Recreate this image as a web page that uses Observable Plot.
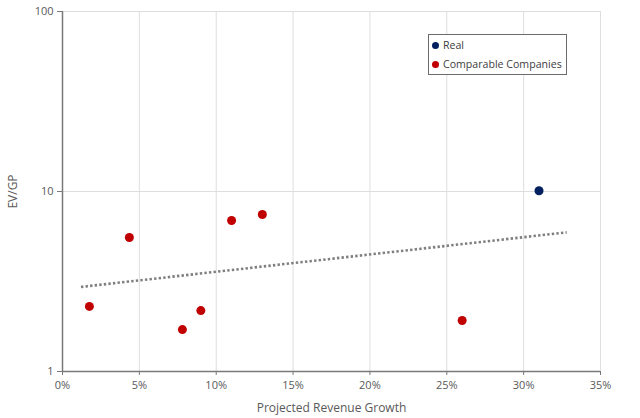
<!DOCTYPE html>
<html>
<head>
<meta charset="utf-8">
<script src="https://cdn.jsdelivr.net/npm/d3@7"></script>
<script src="https://cdn.jsdelivr.net/npm/@observablehq/plot@0.6"></script>
<style>
  body { margin: 0; background: #fff; font-family: "Open Sans", sans-serif; }
  #wrap { position: relative; width: 640px; height: 418px; }
  #legend { position: absolute; left: 428px; top: 34px; width: 139px; height: 41px;
            border: 1.5px solid #6b6b6b; background: #fff; font-size: 10.6px; color: #404040; box-sizing: border-box; white-space: nowrap; }
  .item { position: absolute; left: 3px; display: flex; align-items: center; line-height: 14px; }
  .sw { width: 7px; height: 7px; border-radius: 50%; margin-right: 4px; display: inline-block; }
</style>
</head>
<body>
<div id="wrap"></div>
<script>
// Data
const companyNames = ["Comp A", "Comp B", "Comp C", "Comp D", "Comp E", "Comp F", "Comp G"];
const companyGrowth = [1.75, 4.35, 7.8, 9.0, 11.0, 13.0, 26.0];
const companyEvGp = [2.30, 5.55, 1.71, 2.18, 6.9, 7.45, 1.92];
const realGrowth = [31.0];
const realEvGp = [10.1];
const trendGrowth = [1.2, 32.8];
const trendEvGp = [2.95, 5.93];
const xTicks = [0, 5, 10, 15, 20, 25, 30, 35];
const yTicks = [1, 10, 100];
const seriesNames = ["Real", "Comparable Companies"];
const seriesColors = ["#002060", "#C00000"];

const companies = companyGrowth.map((g, i) => ({name: companyNames[i], growth: g, evgp: companyEvGp[i]}));
const real = realGrowth.map((g, i) => ({growth: g, evgp: realEvGp[i]}));
const trend = trendGrowth.map((g, i) => ({growth: g, evgp: trendEvGp[i]}));

const axisColor = "#7a7a7a";
const textColor = "#595959";

const chart = Plot.plot({
  width: 640,
  height: 418,
  marginLeft: 62,
  marginRight: 40,
  marginTop: 11,
  marginBottom: 47,
  style: {fontFamily: "'Open Sans', sans-serif", fontSize: "11px", color: textColor, background: "#fff"},
  x: {domain: [0, 35]},
  y: {type: "log", domain: [1, 100]},
  marks: [
    Plot.gridX(xTicks.slice(1), {stroke: "#dedede", strokeOpacity: 1, strokeWidth: 1}),
    Plot.gridY(yTicks.slice(1), {stroke: "#dedede", strokeOpacity: 1, strokeWidth: 1}),
    Plot.ruleX([0], {stroke: axisColor, strokeWidth: 1.5}),
    Plot.ruleY([1], {stroke: axisColor, strokeWidth: 1.5}),
    Plot.axisX({ticks: xTicks, tickFormat: d => d + "%", tickSize: 4, tickPadding: 6, stroke: axisColor, fill: textColor,
      label: "Projected Revenue Growth", labelAnchor: "center", labelArrow: "none", labelOffset: 40, fontSize: 11}),
    Plot.axisY({ticks: yTicks, tickFormat: d => String(d), tickSize: 5, tickPadding: 4, stroke: axisColor, fill: textColor,
      label: "EV/GP", labelAnchor: "center", labelArrow: "none", labelOffset: 54, fontSize: 11}),
    Plot.line(trend, {x: "growth", y: "evgp", stroke: "#7f7f7f", strokeWidth: 2.6, strokeDasharray: "2.4,2.2", strokeLinecap: "butt"}),
    Plot.dot(companies, {x: "growth", y: "evgp", r: 4.5, fill: seriesColors[1], stroke: "none"}),
    Plot.dot(real, {x: "growth", y: "evgp", r: 4.5, fill: seriesColors[0], stroke: "none"})
  ]
});

chart.querySelectorAll("g[aria-label='x-axis label'] text, g[aria-label='y-axis label'] text").forEach(t => {
  t.setAttribute("font-size", "12px");
});

const wrap = document.getElementById("wrap");
wrap.appendChild(chart);

const legend = document.createElement("div");
legend.id = "legend";
seriesNames.forEach((n, i) => {
  const it = document.createElement("div");
  it.className = "item";
  it.style.top = (i === 0 ? 3 : 22) + "px";
  it.innerHTML = `<span class="sw" style="background:${seriesColors[i]}"></span><span>${n}</span>`;
  legend.appendChild(it);
});
wrap.appendChild(legend);
</script>
</body>
</html>
